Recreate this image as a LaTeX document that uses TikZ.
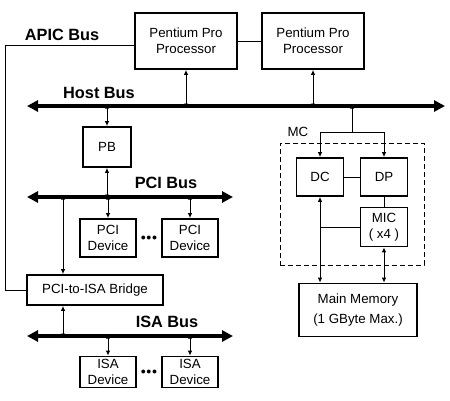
\documentclass[tikz,border=0pt]{standalone}
\usepackage{fontspec}
\setmainfont{Liberation Sans}
\usetikzlibrary{arrows.meta}
\begin{document}
\begin{tikzpicture}[x=1pt,y=-1pt,
 box/.style={draw, line width=1.8pt, inner sep=0pt, align=center, font=\fontsize{13.3}{16}\selectfont},
 bus/.style={line width=4.6pt, {Triangle[length=11pt,width=11pt]}-{Triangle[length=11pt,width=11pt]}},
 link/.style={line width=0.9pt, {Latex[length=5pt,width=4.5pt]}-{Latex[length=5pt,width=4.5pt]}},
 onearrow/.style={line width=0.9pt, -{Latex[length=5pt,width=4.5pt]}},
 wire/.style={line width=0.9pt},
 mcbox/.style={draw, line width=1pt, dash pattern=on 5pt off 3pt},
 buslabel/.style={font=\bfseries\fontsize{16.3}{19}\selectfont, inner sep=0pt},
 plain/.style={font=\fontsize{13.3}{16}\selectfont, inner sep=0pt},
 dots/.style={font=\fontsize{10}{12}\selectfont, inner sep=0pt}]
\useasboundingbox (0,0) rectangle (450,400);

% buses
\coordinate (hbL) at (27,106); \coordinate (hbR) at (445,106);
\coordinate (pbL) at (27,197); \coordinate (pbR) at (233,197);
\coordinate (ibL) at (27,336); \coordinate (ibR) at (233,336);
\draw[bus] (hbL) -- (hbR);
\draw[bus] (pbL) -- (pbR);
\draw[bus] (ibL) -- (ibR);
\node[buslabel] (lhost) at (99,93) {Host Bus};
\node[buslabel] (lpci) at (166,183) {PCI Bus};
\node[buslabel] (lisa) at (167,322) {ISA Bus};
\node[buslabel] (lapic) at (62,35) {APIC Bus};

% processors
\node[box, minimum width=102pt, minimum height=56pt] (cpu1) at (186,41) {Pentium Pro\\Processor};
\node[box, minimum width=102pt, minimum height=56pt] (cpu2) at (313,41) {Pentium Pro\\Processor};
\draw[wire] (cpu1.east) -- (cpu2.east -| cpu2.west);

% PB and PCI devices
\node[box, minimum width=48pt, minimum height=40pt] (pb) at (107,147) {PB};
\node[box, minimum width=56pt, minimum height=38pt] (pci1) at (108,238) {PCI\\Device};
\node[box, minimum width=56pt, minimum height=38pt] (pci2) at (190,238) {PCI\\Device};
\node[dots] (pdots) at (149,238) {$\bullet\!\bullet\!\bullet$};

% bridge
\node[box, minimum width=136pt, minimum height=30pt] (bridge) at (95,290) {PCI-to-ISA Bridge};

% ISA devices
\node[box, minimum width=56pt, minimum height=31pt] (isa1) at (108,372) {ISA\\Device};
\node[box, minimum width=56pt, minimum height=31pt] (isa2) at (190,372) {ISA\\Device};
\node[dots] (idots) at (149,372) {$\bullet\!\bullet\!\bullet$};

% MC
\node[mcbox, minimum width=144pt, minimum height=122pt, inner sep=0pt] (mc) at (352,204) {};
\node[plain] (lmc) at (298,132) {MC};
\node[box, minimum width=47pt, minimum height=38pt] (dc) at (320,177) {DC};
\node[box, minimum width=47pt, minimum height=38pt] (dp) at (384,177) {DP};
\node[box, minimum width=47pt, minimum height=39pt] (mic) at (384,227) {MIC\\( x4 )};
\node[box, minimum width=118pt, minimum height=53pt] (mem) at (358,310) {Main Memory\\[4pt](1 GByte Max.)};

% connectors
\draw[link] (cpu1.south) -- ([yshift=-2.5pt]cpu1.south |- hbL);
\draw[link] (cpu2.south) -- ([yshift=-2.5pt]cpu2.south |- hbL);
\draw[link] ([yshift=2.5pt]pb.north |- hbL) -- (pb.north);
\draw[link] (pb.south) -- ([yshift=-2.5pt]pb.south |- pbL);
\draw[link] ([yshift=2.5pt]pci1.north |- pbL) -- (pci1.north);
\draw[link] ([yshift=2.5pt]pci2.north |- pbL) -- (pci2.north);
\coordinate (brtop) at (63,275);
\draw[link] ([yshift=2.5pt]brtop |- pbL) -- (bridge.north -| brtop);
\draw[link] (bridge.south -| brtop) -- ([yshift=-2.5pt]brtop |- ibL);
\draw[link] ([yshift=2.5pt]isa1.north |- ibL) -- (isa1.north);
\draw[link] ([yshift=2.5pt]isa2.north |- ibL) -- (isa2.north);

% APIC wire
\coordinate (apicc) at (5,45);
\draw[wire] (cpu1.west |- apicc) -- (apicc) -- (apicc |- bridge.west) -- (bridge.west);

% MC internal
\coordinate (mcfork) at (352,132);
\draw[onearrow] (mcfork) -- ([yshift=2.5pt]mcfork |- hbL);
\draw[onearrow] (mcfork) -| (dc.north);
\draw[onearrow] (mcfork) -| (dp.north);
\draw[wire] (dc.east) -- (dp.west);
\draw[wire] (dp.south) -- (mic.north);
\draw[link] (dc.south) -- (mem.north -| dc.south);
\draw[link] (mic.south) -- (mem.north -| mic.south);
\draw[wire] (dc.south |- mic.west) -- (mic.west);
\end{tikzpicture}
\end{document}
